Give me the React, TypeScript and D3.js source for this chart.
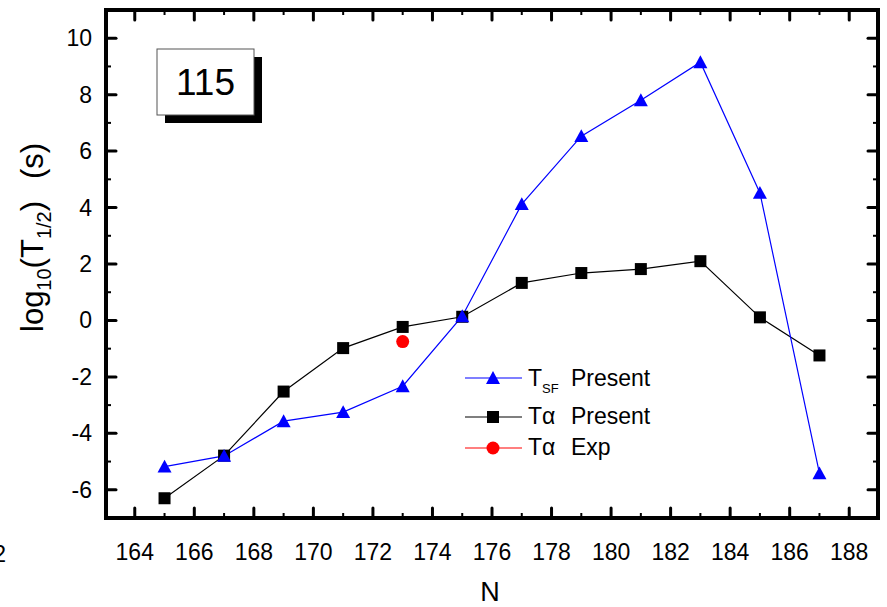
import React from "react";
import * as d3 from "d3";

const N = [165, 167, 169, 171, 173, 175, 177, 179, 181, 183, 185, 187];
const tsfPresent = [-5.18, -4.8, -3.57, -3.25, -2.33, 0.15, 4.12, 6.53, 7.8, 9.15, 4.52, -5.42];
const taPresent = [-6.3, -4.79, -2.52, -0.98, -0.23, 0.13, 1.33, 1.68, 1.82, 2.1, 0.11, -1.24];
const taExpN = [173];
const taExp = [-0.75];
const xTicks = [164, 166, 168, 170, 172, 174, 176, 178, 180, 182, 184, 186, 188];
const yTicks = [-6, -4, -2, 0, 2, 4, 6, 8, 10];
const xMinor = [165, 167, 169, 171, 173, 175, 177, 179, 181, 183, 185, 187];
const yMinor = [-7, -5, -3, -1, 1, 3, 5, 7, 9];

const W = 887, H = 607;
const L = 106, R = 878, T = 10, B = 518;
const FONT = "Arial, 'Liberation Sans', sans-serif";

export default function App() {
  const x = d3.scaleLinear().domain([163, 189]).range([L - 1, R + 1]);
  const y = d3.scaleLinear().domain([-7, 11]).range([B, T]);
  const line = d3.line<[number, number]>().x(d => x(d[0])).y(d => y(d[1]));
  const tsf: [number, number][] = N.map((n, i) => [n, tsfPresent[i]]);
  const ta: [number, number][] = N.map((n, i) => [n, taPresent[i]]);
  const exp: [number, number][] = taExpN.map((n, i) => [n, taExp[i]]);
  const tri = (cx: number, cy: number, s = 7) =>
    `M${cx},${cy - s}L${cx + s},${cy + s * 0.85}L${cx - s},${cy + s * 0.85}Z`;

  const majLen = 10, minLen = 5;
  return (
    <svg width={W} height={H} style={{ position: "absolute", left: 0, top: 0, background: "#fff" }} fontFamily={FONT}>
      <rect width={W} height={H} fill="#fff" />
      {/* data lines */}
      <path d={line(ta) || ""} fill="none" stroke="#000" strokeWidth={1.2} />
      <path d={line(tsf) || ""} fill="none" stroke="#0000ff" strokeWidth={1.2} />
      {ta.map((d, i) => (
        <rect key={"s" + i} x={x(d[0]) - 6} y={y(d[1]) - 6} width={12} height={12} fill="#000" />
      ))}
      {tsf.map((d, i) => (
        <path key={"t" + i} d={tri(x(d[0]), y(d[1]))} fill="#0000ff" />
      ))}
      {exp.map((d, i) => (
        <circle key={"c" + i} cx={x(d[0])} cy={y(d[1])} r={6.5} fill="#ff0000" />
      ))}

      {/* ticks */}
      {xTicks.map(t => (
        <g key={"xt" + t}>
          <line x1={x(t)} x2={x(t)} y1={B} y2={B - majLen} stroke="#000" strokeWidth={3} strokeLinecap="round" />
          <line x1={x(t)} x2={x(t)} y1={T} y2={T + majLen} stroke="#000" strokeWidth={3} strokeLinecap="round" />
          <text x={x(t)} y={560} textAnchor="middle" fontSize={23}>{t}</text>
        </g>
      ))}
      {xMinor.map(t => (
        <g key={"xm" + t}>
          <line x1={x(t)} x2={x(t)} y1={B} y2={B - minLen} stroke="#000" strokeWidth={2} />
          <line x1={x(t)} x2={x(t)} y1={T} y2={T + minLen} stroke="#000" strokeWidth={2} />
        </g>
      ))}
      {yTicks.map(t => (
        <g key={"yt" + t}>
          <line x1={L} x2={L + majLen} y1={y(t)} y2={y(t)} stroke="#000" strokeWidth={3} strokeLinecap="round" />
          <line x1={R} x2={R - majLen} y1={y(t)} y2={y(t)} stroke="#000" strokeWidth={3} strokeLinecap="round" />
          <text x={92} y={y(t) + 8} textAnchor="end" fontSize={23}>{t}</text>
        </g>
      ))}
      {yMinor.map(t => (
        <g key={"ym" + t}>
          <line x1={L} x2={L + minLen} y1={y(t)} y2={y(t)} stroke="#000" strokeWidth={2} />
          <line x1={R} x2={R - minLen} y1={y(t)} y2={y(t)} stroke="#000" strokeWidth={2} />
        </g>
      ))}
      {/* frame */}
      <rect x={L} y={T} width={R - L} height={B - T} fill="none" stroke="#000" strokeWidth={4} />

      {/* axis titles */}
      <text x={490} y={601} textAnchor="middle" fontSize={27}>N</text>
      <text transform="translate(43,332) rotate(-90)" textAnchor="start" fontSize={31}>
        log<tspan fontSize={20} dy={8}>10</tspan><tspan dy={-8}>(T</tspan><tspan fontSize={20} dy={8}>1/2</tspan><tspan dy={-8}>)</tspan><tspan dx={22}>(s)</tspan>
      </text>
      <text x={6} y={562} textAnchor="end" fontSize={23}>2</text>

      {/* label box */}
      <rect x={165} y={57} width={97} height={66} fill="#000" />
      <rect x={157} y={49} width={97} height={66} fill="#fff" stroke="#555" strokeWidth={1} />
      <text x={205.5} y={95} textAnchor="middle" fontSize={37}>115</text>

      {/* legend */}
      <line x1={465} x2={522} y1={378} y2={378} stroke="#0000ff" strokeWidth={1.2} />
      <path d={tri(493, 378)} fill="#0000ff" />
      <text x={528} y={386} fontSize={23}>T<tspan fontSize={13} dy={7}>SF</tspan><tspan x={571} dy={-7}>Present</tspan></text>
      <line x1={465} x2={522} y1={417} y2={417} stroke="#000" strokeWidth={1.2} />
      <rect x={487} y={411} width={12} height={12} fill="#000" />
      <text x={528} y={424} fontSize={23}>Tα<tspan x={571}>Present</tspan></text>
      <line x1={465} x2={522} y1={448} y2={448} stroke="#ff0000" strokeWidth={1.2} />
      <circle cx={493} cy={448} r={6.5} fill="#ff0000" />
      <text x={528} y={455} fontSize={23}>Tα<tspan x={571}>Exp</tspan></text>
    </svg>
  );
}
